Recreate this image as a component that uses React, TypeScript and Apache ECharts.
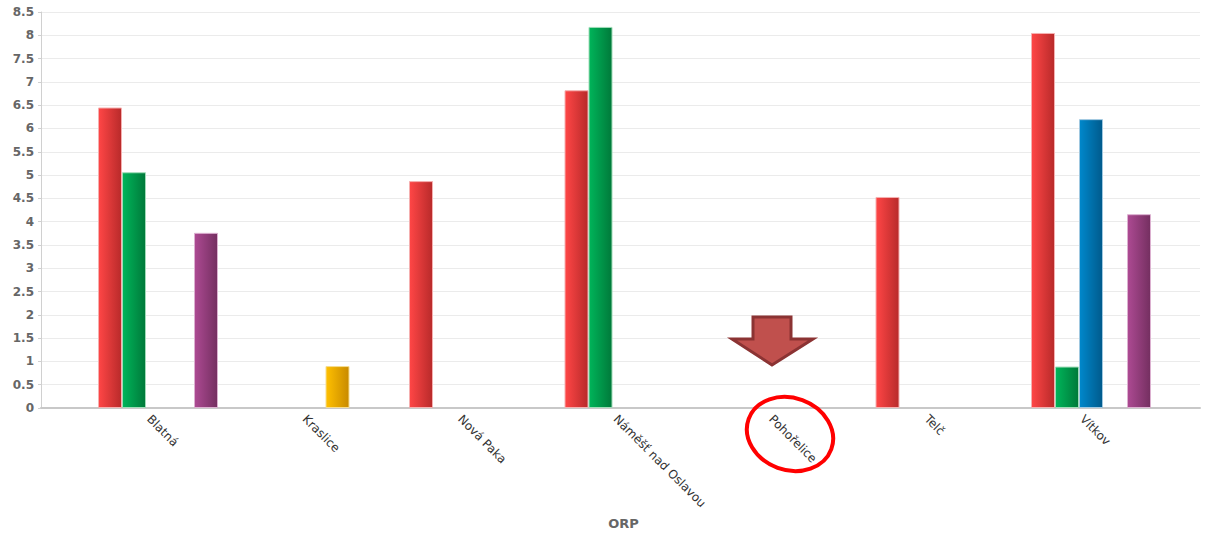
import React, { useEffect, useRef } from "react";
import * as echarts from "echarts";

const categories = ["Blatná", "Kraslice", "Nová Paka", "Náměšť nad Oslavou", "Pohořelice", "Telč", "Vítkov"];
const seriesRed = [6.45, null, 4.87, 6.82, null, 4.53, 8.05];
const seriesGreen = [5.06, null, null, 8.18, null, null, 0.89];
const seriesBlue = [null, null, null, null, null, null, 6.2];
const seriesYellow = [null, 0.9, null, null, null, null, null];
const seriesPurple = [3.76, null, null, null, null, null, 4.16];
const yMin = 0;
const yMax = 8.5;
const yStep = 0.5;
const axisTitle = "ORP";

function grad(a: string, b: string) {
  return new echarts.graphic.LinearGradient(0, 0, 1, 0, [
    { offset: 0, color: a },
    { offset: 1, color: b },
  ]);
}

export default function App() {
  const ref = useRef<HTMLDivElement>(null);
  useEffect(() => {
    if (!ref.current) return;
    const chart = echarts.init(ref.current, null, { renderer: "svg" });
    const mkBar = (name: string, data: (number | null)[], c1: string, c2: string, border: string) => ({
      name,
      type: "bar",
      xAxisIndex: 1,
      yAxisIndex: 1,
      data,
      barWidth: 24,
      barGap: "0%",
      itemStyle: { color: grad(c1, c2), borderColor: border, borderWidth: 1 },
    });
    chart.setOption({
      animation: false,
      backgroundColor: "#ffffff",
      grid: [
        { left: 41, right: 6, top: 12, bottom: 126 },
        { left: 80.25, right: 37.25, top: 12, bottom: 126 },
        { left: 71.25, right: 46.25, top: 12, bottom: 126 },
      ],
      xAxis: [
        {
          gridIndex: 0,
          type: "value",
          min: 0,
          max: 1,
          axisLine: { show: true, onZero: false, lineStyle: { color: "#c8c8c8", width: 2 } },
          axisTick: { show: false },
          axisLabel: { show: false },
          splitLine: { show: false },
        },
        {
          gridIndex: 1,
          type: "category",
          data: categories,
          axisLine: { show: false },
          axisTick: { show: false },
          axisLabel: { show: false },
        },
        {
          gridIndex: 2,
          type: "category",
          data: categories,
          axisLine: { show: false },
          axisTick: { show: false },
          axisLabel: {
            rotate: -45,
            interval: 0,
            margin: 9,
            color: "#333333",
            fontSize: 12,
            fontFamily: "DejaVu Sans",
          },
        },
      ],
      yAxis: [
        {
          gridIndex: 0,
          type: "value",
          min: yMin,
          max: yMax,
          interval: yStep,
          axisLine: { show: true, lineStyle: { color: "#d0d0d0" } },
          axisTick: { show: true, length: 3, lineStyle: { color: "#d0d0d0" } },
          axisLabel: {
            color: "#666666",
            fontWeight: "bold",
            fontSize: 12,
            fontFamily: "DejaVu Sans",
            margin: 7,
          },
          splitLine: { show: true, lineStyle: { color: "#ebebeb", width: 1 } },
        },
        {
          gridIndex: 1,
          type: "value",
          min: yMin,
          max: yMax,
          interval: yStep,
          show: false,
          splitLine: { show: false },
        },
        {
          gridIndex: 2,
          type: "value",
          min: yMin,
          max: yMax,
          interval: yStep,
          show: false,
          splitLine: { show: false },
        },
      ],
      series: [
        mkBar("red", seriesRed, "#ff4646", "#b82a2a", "#f5b0b0"),
        mkBar("green", seriesGreen, "#00b55a", "#00793a", "#a0dcb8"),
        mkBar("blue", seriesBlue, "#0088cc", "#005a8c", "#a0c8e0"),
        mkBar("yellow", seriesYellow, "#ffc000", "#c88a00", "#f5dc90"),
        mkBar("purple", seriesPurple, "#ad4a93", "#742f60", "#dcb0d0"),
      ],
      graphic: [
        {
          type: "text",
          x: 623.5,
          y: 523,
          style: {
            text: axisTitle,
            fill: "#666666",
            font: "bold 13px 'DejaVu Sans'",
            textAlign: "center",
            textVerticalAlign: "middle",
          },
        },
        {
          type: "polygon",
          z: 100,
          shape: {
            points: [
              [753, 317],
              [791, 317],
              [791, 339],
              [813, 339],
              [772, 365],
              [732, 339],
              [753, 339],
            ],
          },
          style: { fill: "#c0504d", stroke: "#8b3333", lineWidth: 3, lineJoin: "miter" },
        },
        {
          type: "ellipse",
          z: 100,
          x: 790,
          y: 434,
          rotation: -0.35,
          shape: { cx: 0, cy: 0, rx: 44, ry: 36 },
          style: { fill: "none", stroke: "#ff0000", lineWidth: 4 },
        },
      ],
    });
    return () => chart.dispose();
  }, []);
  return (
    <div
      ref={ref}
      style={{ position: "fixed", left: 0, top: 0, width: 1206, height: 534 }}
    />
  );
}
